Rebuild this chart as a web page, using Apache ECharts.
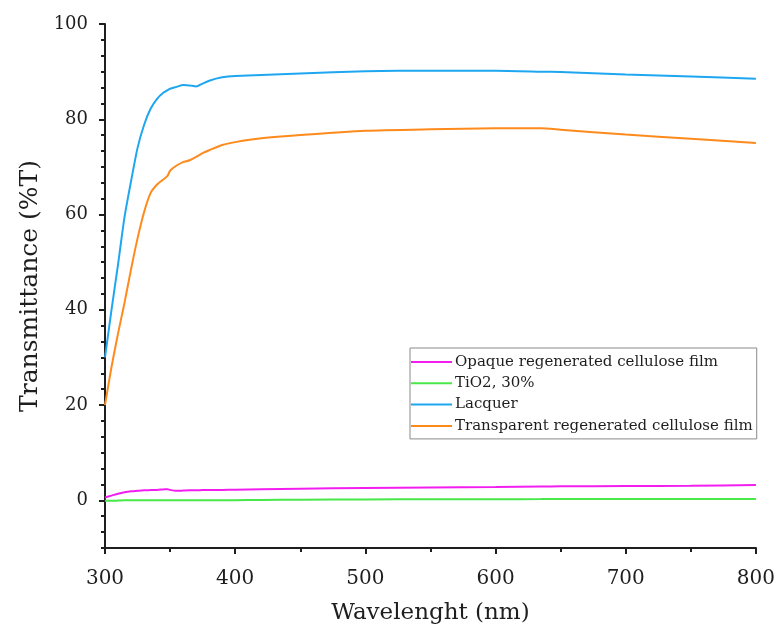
<!DOCTYPE html>
<html>
<head>
<meta charset="utf-8">
<script src="https://cdn.jsdelivr.net/npm/echarts@6/dist/echarts.min.js"></script>
<style>
  html, body { margin: 0; padding: 0; background: #ffffff; }
  #chart { width: 778px; height: 632px; }
</style>
</head>
<body>
<div id="chart"></div>
<script>
// Wavelength grid (nm) shared by all spectra
const wavelengths = [300, 305, 310, 315, 320, 325, 330, 335, 340, 345, 348, 350, 355, 360, 365, 370, 375, 380, 390, 400, 420, 450, 500, 550, 600, 635, 650, 700, 750, 800];

// Transmittance (%T) for each sample
const opaqueFilm = [0.6, 1.0, 1.4, 1.7, 1.9, 2.0, 2.1, 2.15, 2.2, 2.3, 2.35, 2.2, 2.0, 2.05, 2.1, 2.1, 2.15, 2.15, 2.2, 2.25, 2.35, 2.45, 2.6, 2.7, 2.8, 2.9, 2.95, 3.0, 3.05, 3.2];
const tio2 = [-0.1, -0.1, -0.05, 0, 0, 0, 0, 0, 0, 0, 0, 0, 0, 0.02, 0.03, 0.03, 0.04, 0.04, 0.05, 0.05, 0.1, 0.15, 0.2, 0.22, 0.25, 0.27, 0.28, 0.3, 0.3, 0.3];
const lacquer = [30, 40, 49.5, 59.5, 67, 74, 78.8, 82.2, 84.3, 85.6, 86.1, 86.4, 86.8, 87.2, 87.1, 86.9, 87.5, 88.1, 88.8, 89.1, 89.3, 89.6, 90.1, 90.2, 90.2, 90.0, 89.9, 89.4, 89.0, 88.5];
const transparentFilm = [20, 28, 35, 41.5, 48.5, 55, 60.5, 64.5, 66.3, 67.4, 68.1, 69.2, 70.3, 71, 71.4, 72.1, 72.9, 73.5, 74.6, 75.2, 76, 76.7, 77.6, 77.9, 78.1, 78.1, 77.8, 76.8, 75.9, 75.0];

// Axis ticks
const xTicks = { min: 300, max: 800, step: 100 };
const yMajorTicks = [0, 20, 40, 60, 80, 100];
const yRange = { min: -10, max: 100, minorStep: 10 / 3 };

const seriesNames = ['Opaque regenerated cellulose film', 'TiO2, 30%', 'Lacquer', 'Transparent regenerated cellulose film'];
const seriesValues = [opaqueFilm, tio2, lacquer, transparentFilm];
const seriesColors = ['#f21ef0', '#47e847', '#1ea7f0', '#ff8a1c'];

const pairs = vals => wavelengths.map((w, i) => [w, vals[i]]);

const serif = 'DejaVu Serif';
const ink = '#1e1e1e';

const chart = echarts.init(document.getElementById('chart'));
chart.setOption({
  backgroundColor: '#ffffff',
  animation: false,
  grid: { left: 105, right: 21, top: 24, bottom: 84 },
  legend: {
    orient: 'vertical',
    left: 410,
    top: 348,
    padding: [6, 4, 5, 1],
    icon: 'rect',
    itemWidth: 41,
    itemHeight: 2,
    itemGap: 5.3,
    backgroundColor: '#ffffff',
    borderColor: '#8a8a8a',
    borderWidth: 1,
    borderRadius: 0,
    textStyle: { fontFamily: serif, fontSize: 15, lineHeight: 16, color: ink, padding: [0, 0, 0, -2] },
    data: seriesNames
  },
  xAxis: {
    type: 'value',
    min: xTicks.min,
    max: xTicks.max,
    interval: xTicks.step,
    name: 'Wavelenght (nm)',
    nameLocation: 'middle',
    nameGap: 54,
    nameTextStyle: { fontFamily: serif, fontSize: 23, color: ink },
    axisLine: { show: true, onZero: false, lineStyle: { color: ink, width: 2 } },
    axisTick: { show: true, length: 6, lineStyle: { color: ink, width: 2 } },
    minorTick: { show: true, splitNumber: 2, length: 4, lineStyle: { color: ink, width: 2 } },
    axisLabel: { fontFamily: serif, fontSize: 20, color: ink, margin: 21 },
    splitLine: { show: false }
  },
  yAxis: [
    {
      // axis line and short ticks every 10/3 %T
      type: 'value',
      min: yRange.min,
      max: yRange.max,
      interval: yRange.minorStep,
      position: 'left',
      axisLine: { show: true, onZero: false, lineStyle: { color: ink, width: 2 } },
      axisTick: { show: true, length: 4, lineStyle: { color: ink, width: 2 } },
      axisLabel: { show: false },
      splitLine: { show: false }
    },
    {
      // labelled major ticks
      type: 'value',
      min: yRange.min,
      max: yRange.max,
      position: 'left',
      name: 'Transmittance (%T)',
      nameLocation: 'middle',
      nameGap: 56,
      nameTextStyle: { fontFamily: serif, fontSize: 25, color: ink },
      axisLine: { show: false },
      axisTick: { show: true, length: 6, customValues: yMajorTicks, lineStyle: { color: ink, width: 2 } },
      axisLabel: { fontFamily: serif, fontSize: 18, color: ink, margin: 17, customValues: yMajorTicks },
      splitLine: { show: false }
    }
  ],
  series: seriesNames.map((name, i) => ({
    name,
    type: 'line',
    yAxisIndex: 0,
    data: pairs(seriesValues[i]),
    smooth: 0.2,
    symbol: 'none',
    color: seriesColors[i],
    lineStyle: { color: seriesColors[i], width: 2 }
  }))
});
</script>
</body>
</html>
